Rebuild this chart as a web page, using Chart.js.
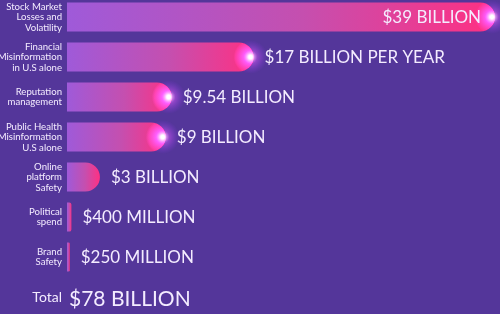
<!DOCTYPE html>
<html><head><meta charset="utf-8">
<script src="https://cdn.jsdelivr.net/npm/chart.js@4.4.1/dist/chart.umd.min.js"></script>
<style>
html,body{margin:0;padding:0;background:#54369a;overflow:hidden;width:500px;height:314px}
#wrap{position:absolute;left:0;top:-3px;width:500px;height:320px}
</style></head><body>
<div id="wrap"><canvas id="c"></canvas></div>
<script>
const categories = [
  ["Stock Market","Losses and","Volatility"],
  ["Financial","Misinformation","in U.S alone"],
  ["Reputation","management"],
  ["Public Health","Misinformation","U.S alone"],
  ["Online","platform","Safety"],
  ["Political","spend"],
  ["Brand","Safety"],
  "Total"
];
const values = [39, 17, 9.54, 9, 3, 0.4, 0.25, null];
const valueLabels = ["$39 BILLION","$17 BILLION PER YEAR","$9.54 BILLION","$9 BILLION","$3 BILLION","$400 MILLION","$250 MILLION","$78 BILLION"];
const totalValue = 78;

const FONT = "Lato, 'DejaVu Sans', sans-serif";
const TEXT = "#f4ecff";

function barGradient(ctx){
  const chart = ctx.chart;
  const xs = chart.scales.x;
  if (!xs || !chart.chartArea) return "#b04fc0";
  const v = values[ctx.dataIndex] || 0;
  const x0 = xs.getPixelForValue(0);
  const x1 = Math.max(xs.getPixelForValue(v), x0 + 1);
  const g = chart.ctx.createLinearGradient(x0, 0, x1, 0);
  g.addColorStop(0, "#9f5ad9");
  g.addColorStop(0.55, "#c54faf");
  g.addColorStop(1, "#ff3082");
  return g;
}

const labelPlugin = {
  id: "valueLabels",
  afterDatasetsDraw(chart){
    const c = chart.ctx;
    const meta = chart.getDatasetMeta(0);
    const area = chart.chartArea;
    c.save();
    meta.data.forEach((el, i) => {
      const y = el.y;
      if (values[i] != null && i < 4) {
        const x = el.x - 3;
        c.save();
        c.globalCompositeOperation = "lighter";
        const g = c.createRadialGradient(x, y, 0, x, y, 17);
        g.addColorStop(0, "rgba(255,255,255,1)");
        g.addColorStop(0.15, "rgba(255,200,255,0.9)");
        g.addColorStop(0.4, "rgba(220,90,255,0.45)");
        g.addColorStop(1, "rgba(150,60,255,0)");
        c.fillStyle = g;
        c.beginPath(); c.arc(x, y, 17, 0, Math.PI*2); c.fill();
        c.restore();
      }
      c.fillStyle = TEXT;
      c.textBaseline = "middle";
      if (i === 0) {
        c.font = "17px " + FONT;
        c.textAlign = "right";
        c.fillText(valueLabels[i], el.x - 14, y + 1);
      } else if (values[i] == null) {
        c.font = "21px " + FONT;
        c.textAlign = "left";
        c.fillText(valueLabels[i], area.left + 2, y + 2);
      } else {
        c.font = "17px " + FONT;
        c.textAlign = "left";
        c.fillText(valueLabels[i], el.x + 11, y + 1);
      }
    });
    c.restore();
  }
};

new Chart(document.getElementById("c"), {
  type: "bar",
  data: {
    labels: categories,
    datasets: [{
      data: values,
      backgroundColor: barGradient,
      borderWidth: 0,
      borderRadius: 15,
      borderSkipped: "start",
      barPercentage: 0.73,
      categoryPercentage: 1
    }]
  },
  options: {
    indexAxis: "y",
    responsive: true,
    maintainAspectRatio: false,
    animation: false,
    layout: { padding: { left: 0, right: 5, top: 0, bottom: 0 } },
    plugins: { legend: { display: false }, tooltip: { enabled: false } },
    scales: {
      x: { display: false, min: 0, max: 39 },
      y: {
        grid: { display: false, drawTicks: false },
        border: { display: false },
        afterFit(s){ s.width = 67; s.paddingTop = 0; s.paddingBottom = 0; },
        ticks: {
          padding: 5,
          color: TEXT,
          font: (ctx) => ctx.index === 7 ? { family: FONT, size: 14 } : { family: FONT, size: 9.6, lineHeight: 1.1 }
        }
      }
    }
  },
  plugins: [labelPlugin]
});
</script>
</body></html>
